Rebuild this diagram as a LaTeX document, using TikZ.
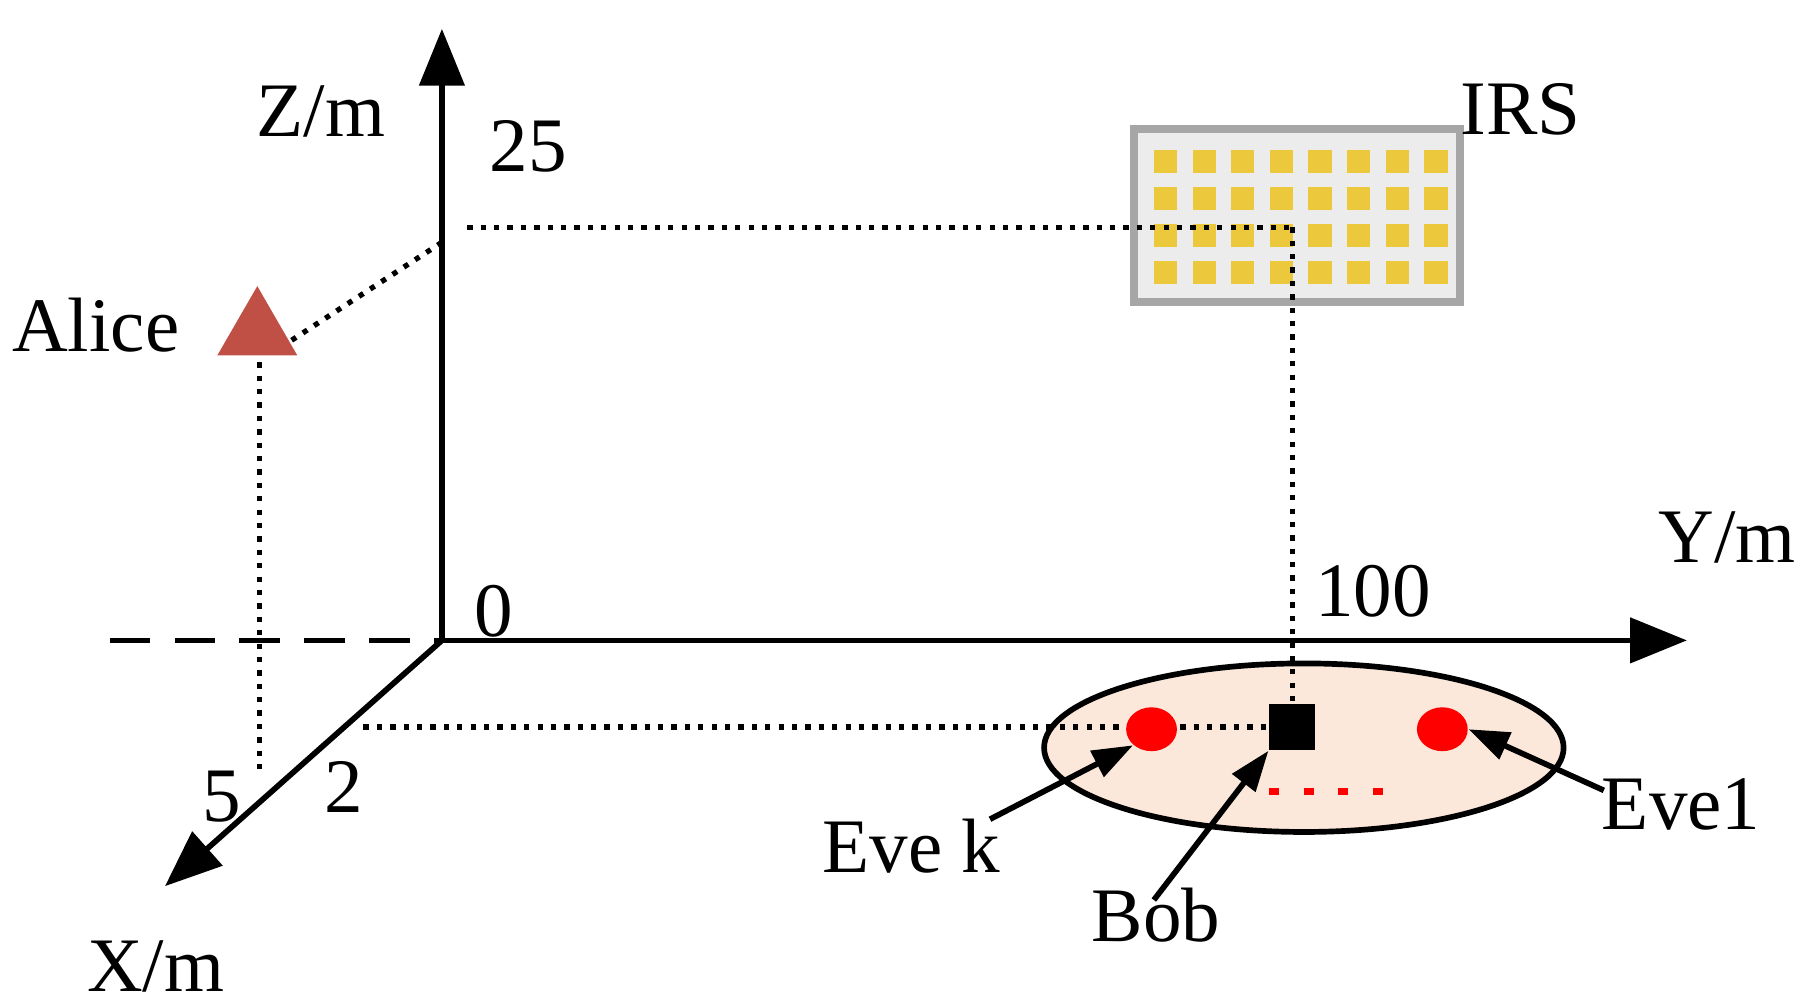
\documentclass[tikz,border=0pt]{standalone}
\usepackage{fontspec}
\setmainfont{Liberation Serif}
\usetikzlibrary{arrows.meta,shapes.geometric}
\definecolor{alicec}{RGB}{192,80,70}
\definecolor{peach}{RGB}{251,232,218}
\definecolor{padc}{RGB}{235,200,60}
\begin{document}
\begin{tikzpicture}[x=0.01cm,y=-0.01cm,
  axis/.style={line width=1.4pt,-{Triangle[length=14pt,width=11pt]}},
  dot/.style={line width=1.3pt,dotted},
  lbl/.style={font=\fontsize{19}{21}\selectfont,inner sep=0pt},
  pointer/.style={line width=1.4pt,-{Triangle[length=10pt,width=7pt]}}]
\useasboundingbox (0,0) rectangle (1560,873);
% ellipse
\node[draw,line width=1.4pt,fill=peach,ellipse,minimum width=4.5cm,minimum height=1.46cm,inner sep=0] (ell) at (1130,648) {};
% axes
\coordinate (O) at (383,555);
\coordinate (zt) at (383,25);
\coordinate (yt) at (1462,555);
\coordinate (xt) at (143,768);
\coordinate (dl) at (95,555);
\draw[axis] (O) -- (zt);
\draw[axis] (O) -- (yt);
\draw[axis] (O) -- (xt);
\draw[line width=1.4pt,dash pattern=on 10pt off 6pt] (dl) -- (O);
% IRS
\node[draw=gray!70,line width=2pt,fill=gray!15,minimum width=2.82cm,minimum height=1.5cm,inner sep=0] (irs) at (1124,187) {};
\foreach \i in {0,...,7}{\foreach \j in {0,...,3}{
  \fill[padc] (1000+\i*33.5,130+\j*32) rectangle ++(20,20);
}}
% Alice
\node[isosceles triangle,isosceles triangle apex angle=60,shape border rotate=90,fill=alicec,minimum height=0.6cm,inner sep=0,draw=none] (alice) at (223,288) {};
% dotted guides
\coordinate (z25) at (383,210);
\coordinate (ap) at (248,298);
\coordinate (irsl) at (405,197);
\coordinate (irsp) at (1120,197);
\coordinate (bobp) at (1120,612);
\coordinate (aa) at (225,314);
\coordinate (ab) at (225,672);
\coordinate (x2) at (315,630);
\coordinate (x2e) at (1100,630);
\draw[dot] (z25) -- (ap);
\draw[dot] (irsl) -- (irsp);
\draw[dot] (irsp) -- (bobp);
\draw[dot] (aa) -- (ab);
\draw[dot] (x2) -- (x2e);
% users
\node[fill=red,ellipse,minimum width=0.44cm,minimum height=0.38cm,inner sep=0] (evek) at (998,632) {};
\node[fill=red,ellipse,minimum width=0.44cm,minimum height=0.38cm,inner sep=0] (eve1) at (1250,632) {};
\node[fill=black,minimum size=0.4cm,inner sep=0] (bob) at (1120,630) {};
\coordinate (rd1) at (1100,686); \coordinate (rd2) at (1200,686);
\draw[red,line width=1.8pt,dash pattern=on 2.5pt off 6pt] (rd1) -- (rd2);
% labels
\node[lbl] (lz) at (278,97) {Z/m};
\node[lbl] at (458,127) {25};
\node[lbl] at (428,530) {0};
\node[lbl] at (1190,512) {100};
\node[lbl] at (1497,466) {Y/m};
\node[lbl] at (135,838) {X/m};
\node[lbl] at (192,690) {5};
\node[lbl] at (298,682) {2};
\node[lbl] at (83,282) {Alice};
\node[lbl] at (1318,95) {IRS};
\node[lbl] (levek) at (790,733) {Eve k};
\node[lbl] (lbob) at (1002,793) {Bob};
\node[lbl] (leve1) at (1457,697) {Eve1};
\coordinate (p1) at (858,710); \coordinate (p2) at (1000,780); \coordinate (p3) at (1390,685);
\draw[pointer] (p1) -- (evek.south west);
\draw[pointer] (p2) -- (bob.south west);
\draw[pointer] (p3) -- (eve1.east);
\end{tikzpicture}
\end{document}
